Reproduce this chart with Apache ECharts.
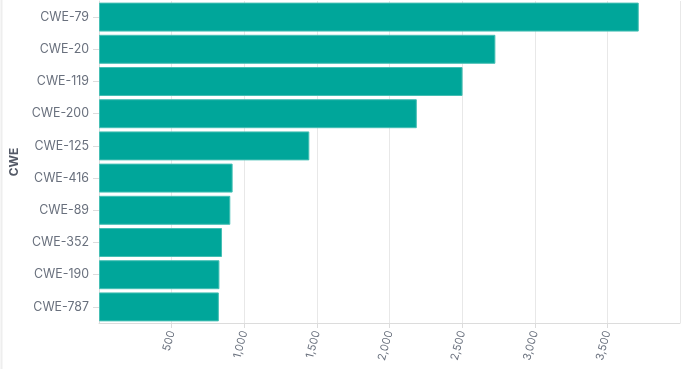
<!DOCTYPE html>
<html>
<head>
<meta charset="utf-8">
<script src="https://cdn.jsdelivr.net/npm/echarts@6/dist/echarts.min.js"></script>
<style>
html,body{margin:0;padding:0;background:#fff;}
#chart{width:688px;height:369px;}
</style>
</head>
<body>
<div id="chart"></div>
<script>
const categories = ['CWE-79','CWE-20','CWE-119','CWE-200','CWE-125','CWE-416','CWE-89','CWE-352','CWE-190','CWE-787'];
const counts = [3716, 2729, 2503, 2188, 1448, 920, 904, 847, 829, 825];
const axisName = 'CWE';

const chart = echarts.init(document.getElementById('chart'), null, {renderer: 'canvas'});
const font = 'Inter, "Noto Sans", sans-serif';
chart.setOption({
  animation: false,
  grid: {left: 97, right: 8, top: 1, bottom: 46, containLabel: false},
  graphic: [{
    type: 'line', shape: {x1: 1.5, y1: 0, x2: 1.5, y2: 369},
    style: {stroke: '#eeeeee', lineWidth: 2}, silent: true
  }],
  xAxis: {
    type: 'value', min: 0, max: 4000, interval: 500,
    axisLine: {show: true, lineStyle: {color: '#dcdcdc', width: 1}},
    axisTick: {show: true, length: 5, lineStyle: {color: '#dcdcdc'}},
    splitLine: {show: true, lineStyle: {color: '#e8e8e8', width: 1}},
    axisLabel: {
      rotate: 75, color: '#69707d', fontFamily: font, fontSize: 11, margin: 8,
      showMinLabel: false, showMaxLabel: false,
      formatter: v => v.toLocaleString('en-US')
    }
  },
  yAxis: {
    type: 'category', data: categories, inverse: true,
    name: axisName, nameLocation: 'middle', nameGap: 79, nameRotate: 90,
    nameTextStyle: {color: '#535966', fontFamily: font, fontSize: 12, fontWeight: 'bold'},
    axisLine: {show: true, lineStyle: {color: '#dcdcdc', width: 1}},
    axisTick: {show: true, alignWithLabel: true, length: 6, lineStyle: {color: '#dcdcdc'}},
    axisLabel: {color: '#69707d', fontFamily: font, fontSize: 12.4, margin: 10}
  },
  series: [{
    type: 'bar', data: counts, barCategoryGap: '10%',
    itemStyle: {color: '#00a69a', borderColor: '#45bfb4', borderWidth: 1}
  }]
});
</script>
</body>
</html>
